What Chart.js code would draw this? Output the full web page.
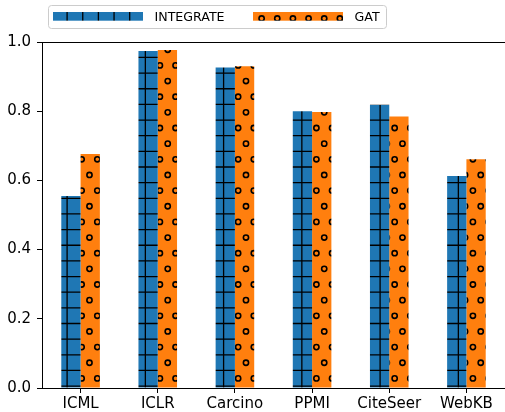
<!DOCTYPE html>
<html>
<head>
<meta charset="utf-8">
<script src="https://cdn.jsdelivr.net/npm/chart.js@4"></script>
<style>
  html, body { margin: 0; padding: 0; background: #fff; }
  #wrap { width: 505px; height: 412px; }
</style>
</head>
<body>
<div id="wrap"><canvas id="barChart" width="505" height="412"></canvas></div>
<script>
const categories = ['ICML', 'ICLR', 'Carcino', 'PPMI', 'CiteSeer', 'WebKB'];
const integrateScores = [0.555, 0.974, 0.926, 0.800, 0.819, 0.613];
const gatScores = [0.676, 0.977, 0.930, 0.798, 0.785, 0.661];
const seriesNames = ['INTEGRATE', 'GAT'];
const yTickLabels = ['0.0', '0.2', '0.4', '0.6', '0.8', '1.0'];

const FONT = "'DejaVu Sans', sans-serif";
Chart.defaults.font.family = FONT;
Chart.defaults.color = '#000';

// hatch fills, anchored to the canvas like matplotlib's figure-wide hatching
const STEP = 15.65;
const TILE = 313; // 20 * STEP

function gridHatch(base) {
    const c = document.createElement('canvas');
    c.width = TILE; c.height = TILE;
    const g = c.getContext('2d');
    g.fillStyle = base;
    g.fillRect(0, 0, TILE, TILE);
    g.strokeStyle = '#000';
    g.lineWidth = 1.3;
    g.beginPath();
    for (let k = 0; k < 20; k++) {
        const x = 4.5 + k * STEP;
        const y = 10.5 + k * STEP;
        g.moveTo(x, 0); g.lineTo(x, TILE);
        g.moveTo(0, y); g.lineTo(TILE, y);
    }
    g.stroke();
    return g.createPattern(c, 'repeat');
}

function circleHatch(base) {
    const c = document.createElement('canvas');
    c.width = TILE; c.height = TILE;
    const g = c.getContext('2d');
    g.fillStyle = base;
    g.fillRect(0, 0, TILE, TILE);
    g.strokeStyle = '#000';
    g.lineWidth = 1.6;
    for (let r = -2; r <= 21; r++) {
        const y = 2.8 + r * STEP;
        const off = ((r % 2) + 2) % 2 === 0 ? 3.4 : 3.4 + STEP / 2;
        for (let k = -1; k <= 20; k++) {
            g.beginPath();
            g.arc(off + k * STEP, y, 2.6, 0, Math.PI * 2);
            g.stroke();
        }
    }
    return g.createPattern(c, 'repeat');
}

const fills = [gridHatch('#1f77b4'), circleHatch('#ff7f0e')];

// top spine + matplotlib style legend box
const framePlugin = {
    id: 'mplFrame',
    afterDraw(chart) {
        const ctx = chart.ctx;
        const a = chart.chartArea;
        ctx.save();
        ctx.strokeStyle = '#000';
        ctx.lineWidth = 1;
        ctx.beginPath();
        ctx.moveTo(a.left, a.top + 0.5);
        ctx.lineTo(a.right, a.top + 0.5);
        ctx.stroke();

        // legend frame
        ctx.fillStyle = 'rgba(255,255,255,0.8)';
        ctx.strokeStyle = '#cccccc';
        ctx.beginPath();
        ctx.roundRect(48.5, 5.5, 338, 23, 3);
        ctx.fill();
        ctx.stroke();

        const patchX = [53, 253];
        const textX = [154.5, 354.5];
        ctx.font = '12.6px ' + FONT;
        ctx.textBaseline = 'alphabetic';
        ctx.textAlign = 'left';
        chart.data.datasets.forEach((ds, i) => {
            ctx.fillStyle = ds.backgroundColor;
            ctx.fillRect(patchX[i], 12, 90, 8.7);
            ctx.fillStyle = '#000';
            ctx.fillText(ds.label, textX[i], 21);
        });
        ctx.restore();
    }
};

const config = {
    type: 'bar',
    data: {
        labels: categories,
        datasets: [{
            label: seriesNames[0],
            data: integrateScores,
            backgroundColor: fills[0],
            borderWidth: 0
        }, {
            label: seriesNames[1],
            data: gatScores,
            backgroundColor: fills[1],
            borderWidth: 0
        }]
    },
    options: {
        responsive: false,
        animation: false,
        categoryPercentage: 0.5,
        barPercentage: 1.0,
        layout: { padding: { top: 42, left: 0, right: 0, bottom: 0 } },
        scales: {
            x: {
                offset: true,
                grid: {
                    offset: false,
                    drawOnChartArea: false,
                    drawTicks: true,
                    tickLength: 5,
                    color: '#000'
                },
                border: { display: true, color: '#000', width: 1 },
                ticks: {
                    font: { size: 15 },
                    padding: 2,
                    maxRotation: 0,
                    autoSkip: false
                },
                afterFit(scale) {
                    scale.height = 24;
                    scale.paddingLeft = 0;
                    scale.paddingRight = 0;
                }
            },
            y: {
                min: 0,
                max: 1,
                grid: {
                    drawOnChartArea: false,
                    drawTicks: true,
                    tickLength: 5,
                    color: '#000'
                },
                border: { display: true, color: '#000', width: 1 },
                ticks: {
                    stepSize: 0.2,
                    font: { size: 15 },
                    padding: 6,
                    callback: (v, i) => yTickLabels[i]
                },
                afterFit(scale) {
                    scale.width = 42;
                    scale.paddingTop = 0;
                    scale.paddingBottom = 0;
                }
            }
        },
        plugins: {
            legend: { display: false },
            tooltip: { enabled: false }
        }
    },
    plugins: [framePlugin]
};

const ctx = document.getElementById('barChart').getContext('2d');
new Chart(ctx, config);
</script>
</body>
</html>
